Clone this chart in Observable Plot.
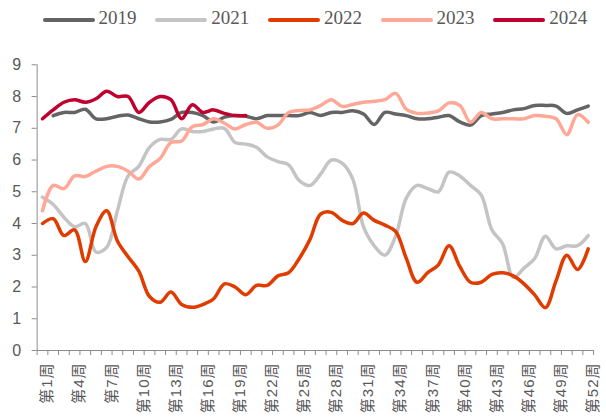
<!DOCTYPE html>
<html>
<head>
<meta charset="utf-8">
<script src="https://cdn.jsdelivr.net/npm/d3@7"></script>
<script src="https://cdn.jsdelivr.net/npm/@observablehq/plot@0.6"></script>
<style>
  html, body { margin: 0; padding: 0; background: #fff; }
  #wrap { width: 606px; height: 419px; position: relative; overflow: hidden; }
  #legend { position: relative; width: 606px; height: 40px; }
  .item { position: absolute; top: 0; height: 40px; }
  .sw { position: absolute; top: 18px; width: 52px; height: 4px; border-radius: 2px; }
  .lab { position: absolute; top: 7px; font-family: "Liberation Serif", "Times New Roman", serif; font-size: 19px; color: #595959; white-space: nowrap; }
  .xlab text { letter-spacing: 1px; }
</style>
</head>
<body>
<div id="wrap">
  <div id="legend"></div>
  <div id="chart"></div>
</div>
<script>
const years = ["2019", "2021", "2022", "2023", "2024"];
const colors = ["#646464", "#c4c4c4", "#e03c00", "#ffa897", "#c0002f"];
const weeks = d3.range(1, 53);
const weekTicks = [1, 4, 7, 10, 13, 16, 19, 22, 25, 28, 31, 34, 37, 40, 43, 46, 49, 52];
const yTicks = [0, 1, 2, 3, 4, 5, 6, 7, 8, 9];

const v2019 = [null, 7.4, 7.5, 7.5, 7.6, 7.3, 7.3, 7.38, 7.42, 7.3, 7.2, 7.2, 7.28, 7.5, 7.5, 7.4, 7.2, 7.35, 7.4, 7.38,
  7.3, 7.4, 7.4, 7.4, 7.4, 7.5, 7.4, 7.5, 7.5, 7.55, 7.45, 7.12, 7.5, 7.45, 7.4, 7.3, 7.3, 7.35, 7.4, 7.2,
  7.1, 7.4, 7.45, 7.5, 7.58, 7.62, 7.72, 7.72, 7.7, 7.47, 7.58, 7.7];
const v2021 = [4.83, 4.6, 4.2, 3.9, 4.0, 3.1, 3.25, 4.4, 5.5, 5.8, 6.4, 6.65, 6.65, 6.98, 6.9, 6.9, 6.98, 7.0, 6.55, 6.5,
  6.4, 6.1, 5.95, 5.85, 5.35, 5.2, 5.56, 6.0, 5.9, 5.4, 3.9, 3.3, 3.0, 3.6, 4.8, 5.2, 5.1, 5.0, 5.62, 5.5,
  5.2, 4.9, 3.8, 3.36, 2.3, 2.6, 2.9, 3.6, 3.2, 3.3, 3.3, 3.62];
const v2022 = [4.0, 4.15, 3.62, 3.8, 2.8, 3.9, 4.4, 3.45, 2.95, 2.5, 1.7, 1.52, 1.84, 1.45, 1.36, 1.45, 1.63, 2.1, 2.0, 1.76,
  2.05, 2.05, 2.35, 2.45, 2.9, 3.5, 4.3, 4.35, 4.1, 4.0, 4.33, 4.1, 3.95, 3.75, 2.9, 2.15, 2.45, 2.7, 3.3, 2.65,
  2.15, 2.15, 2.4, 2.45, 2.35, 2.1, 1.75, 1.35, 2.2, 3.0, 2.55, 3.2];
const v2023 = [4.4, 5.2, 5.1, 5.5, 5.48, 5.65, 5.8, 5.8, 5.65, 5.4, 5.8, 6.05, 6.55, 6.6, 7.05, 7.12, 7.3, 7.16, 6.98, 7.12,
  7.19, 7.0, 7.1, 7.5, 7.56, 7.58, 7.72, 7.9, 7.69, 7.75, 7.82, 7.85, 7.9, 8.1, 7.6, 7.47, 7.48, 7.55, 7.8, 7.72,
  7.19, 7.5, 7.3, 7.3, 7.3, 7.3, 7.4, 7.38, 7.3, 6.8, 7.43, 7.19];
const v2024 = [7.3, 7.58, 7.82, 7.9, 7.82, 7.93, 8.17, 8.0, 8.0, 7.5, 7.82, 8.0, 7.9, 7.3, 7.74, 7.5, 7.58, 7.47, 7.4, 7.4];

const series = [v2019, v2021, v2022, v2023, v2024];
const data = [];
series.forEach((arr, k) => {
  arr.forEach((v, i) => {
    if (v != null) data.push({ year: years[k], week: weeks[i], value: v });
  });
});

// legend
const legend = document.getElementById("legend");
years.forEach((y, i) => {
  const item = document.createElement("div");
  item.className = "item";
  item.style.left = (42.5 + i * 112.7) + "px";
  const sw = document.createElement("div");
  sw.className = "sw";
  sw.style.left = "0px";
  sw.style.background = colors[i];
  const lab = document.createElement("div");
  lab.className = "lab";
  lab.style.left = "56px";
  lab.textContent = y;
  item.appendChild(sw);
  item.appendChild(lab);
  legend.appendChild(item);
});

const boundaries = d3.range(0.5, 53, 1);

const chart = Plot.plot({
  width: 606,
  height: 379,
  marginLeft: 36.65,
  marginRight: 12.95,
  marginTop: 24.3,
  marginBottom: 69,
  style: { fontFamily: "'Liberation Sans', 'Noto Sans CJK SC', sans-serif", background: "#fff" },
  x: { type: "linear", domain: [0.5, 52.5], axis: null },
  y: { domain: [0, 9], axis: null },
  color: { domain: years, range: colors },
  marks: [
    Plot.axisY({ ticks: yTicks, tickSize: 5, tickPadding: 11, fontSize: 16, stroke: "#8c8c8c", fill: "#595959", label: null }),
    Plot.axisX({ ticks: boundaries, tickSize: 5, tickFormat: () => "", stroke: "#8c8c8c", label: null }),
    Plot.axisX({ ticks: weekTicks, tickSize: 0, tickPadding: 12, tickRotate: -90, dx: 5, fontSize: 15, fill: "#595959", className: "xlab", tickFormat: d => `第${d}周`, label: null }),
    Plot.ruleX([0.5], { y1: 0, y2: 9, stroke: "#8c8c8c", strokeWidth: 1 }),
    Plot.ruleY([0], { x1: 0.5, x2: 52.5, stroke: "#8c8c8c", strokeWidth: 1 }),
    Plot.line(data, { x: "week", y: "value", z: "year", stroke: "year", strokeWidth: 3.5, curve: "catmull-rom", strokeLinejoin: "round", strokeLinecap: "round" })
  ]
});
document.getElementById("chart").appendChild(chart);
</script>
</body>
</html>
